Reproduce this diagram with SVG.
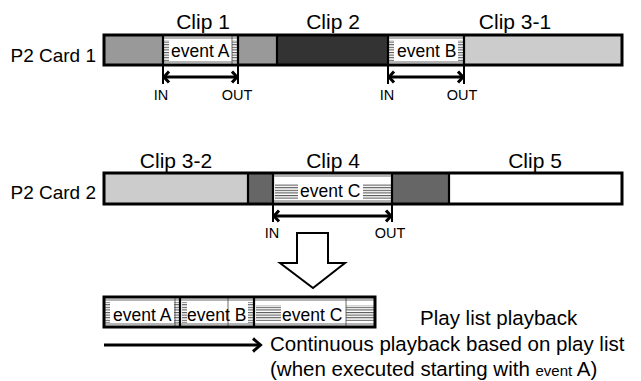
<svg xmlns="http://www.w3.org/2000/svg" width="641" height="381" viewBox="0 0 641 381">
<defs>
<pattern id="hatch" patternUnits="userSpaceOnUse" width="4" height="2.6">
<rect width="4" height="2.6" fill="#fff"/>
<line x1="0" y1="0.6" x2="4" y2="0.6" stroke="#333" stroke-width="0.9"/>
</pattern>
</defs>
<style>
text{font-family:"Liberation Sans",Arial,sans-serif;fill:#000}
.clip{font-size:21px;text-anchor:middle}
.card{font-size:19px;text-anchor:end}
.ev{font-size:17.5px}
.io{font-size:14.5px;text-anchor:middle}
.big{font-size:20.5px}
.out{fill:none;stroke:#000;stroke-width:3}
.div{stroke:#000;stroke-width:2.2}
.thin{stroke:#444;stroke-width:0.8;fill:none}
.arr{fill:none;stroke:#000;stroke-width:3}
.tick{stroke:#000;stroke-width:2}
</style>

<g id="card1">
<text class="card" x="96" y="62">P2 Card 1</text>
<rect x="104" y="35" width="59" height="30" fill="#999"/>
<rect x="163" y="35" width="75" height="30" fill="#fff"/>
<rect x="238" y="35" width="39" height="30" fill="#999"/>
<rect x="277" y="35" width="111" height="30" fill="#333"/>
<rect x="388" y="35" width="76" height="30" fill="#fff"/>
<rect x="464" y="35" width="158" height="30" fill="#ccc"/>
<rect x="164" y="40" width="5" height="21" fill="url(#hatch)"/>
<rect x="232" y="40" width="5" height="21" fill="url(#hatch)"/>
<rect x="389" y="40" width="5" height="21" fill="url(#hatch)"/>
<rect x="458" y="40" width="5" height="21" fill="url(#hatch)"/>
<line class="thin" x1="163" y1="38" x2="238" y2="38"/>
<line class="thin" x1="163" y1="62" x2="238" y2="62"/>
<line class="thin" x1="388" y1="38" x2="464" y2="38"/>
<line class="thin" x1="388" y1="62" x2="464" y2="62"/>
<line class="thin" x1="232" y1="36" x2="232" y2="64"/>
<line class="div" x1="163" y1="35" x2="163" y2="65"/>
<line class="div" x1="238" y1="35" x2="238" y2="65"/>
<line class="div" x1="277" y1="35" x2="277" y2="65"/>
<line class="div" x1="388" y1="35" x2="388" y2="65"/>
<line class="div" x1="464" y1="35" x2="464" y2="65"/>
<rect class="out" x="104" y="35" width="518" height="30"/>
<text class="clip" x="203" y="29">Clip 1</text>
<text class="clip" x="333" y="29">Clip 2</text>
<text class="clip" x="515" y="29">Clip 3-1</text>
<text class="ev" x="171" y="57">event A</text>
<text class="ev" x="397" y="57">event B</text>
</g>

<g id="card2">
<text class="card" x="96" y="199">P2 Card 2</text>
<rect x="104" y="173" width="144" height="31" fill="#ccc"/>
<rect x="248" y="173" width="25" height="31" fill="#666"/>
<rect x="273" y="173" width="119" height="31" fill="#fff"/>
<rect x="392" y="173" width="57" height="31" fill="#666"/>
<rect x="449" y="173" width="173" height="31" fill="#fff"/>
<rect x="275" y="184" width="23" height="15" fill="url(#hatch)"/>
<rect x="363" y="184" width="28" height="15" fill="url(#hatch)"/>
<line class="thin" x1="273" y1="176" x2="392" y2="176"/>
<line class="thin" x1="273" y1="201" x2="392" y2="201"/>
<line class="div" x1="248" y1="173" x2="248" y2="204"/>
<line class="div" x1="273" y1="173" x2="273" y2="204"/>
<line class="div" x1="392" y1="173" x2="392" y2="204"/>
<line class="div" x1="449" y1="173" x2="449" y2="204"/>
<rect class="out" x="104" y="173" width="518" height="31"/>
<text class="clip" x="176" y="168">Clip 3-2</text>
<text class="clip" x="333" y="168">Clip 4</text>
<text class="clip" x="535" y="168">Clip 5</text>
<text class="ev" x="300" y="197">event C</text>
</g>

<g id="playlist">
<rect x="104" y="297" width="271" height="30" fill="#fff"/>
<rect x="105" y="302" width="5" height="21" fill="url(#hatch)"/>
<rect x="174" y="302" width="5" height="21" fill="url(#hatch)"/>
<rect x="182" y="302" width="5" height="21" fill="url(#hatch)"/>
<rect x="248" y="302" width="5" height="21" fill="url(#hatch)"/>
<rect x="256" y="305" width="25" height="16" fill="url(#hatch)"/>
<rect x="346" y="305" width="28" height="16" fill="url(#hatch)"/>
<line class="thin" x1="104" y1="300" x2="375" y2="300"/>
<line class="thin" x1="104" y1="324" x2="375" y2="324"/>
<line class="thin" x1="175" y1="298" x2="175" y2="326"/>
<line class="thin" x1="228" y1="298" x2="228" y2="326"/>
<line class="thin" x1="346" y1="298" x2="346" y2="326"/>
<line class="div" x1="180" y1="297" x2="180" y2="327"/>
<line class="div" x1="254" y1="297" x2="254" y2="327"/>
<rect class="out" x="104" y="297" width="271" height="30"/>
<text class="ev" x="113" y="321">event A</text>
<text class="ev" x="187" y="321">event B</text>
<text class="ev" x="282" y="321">event C</text>
<text class="big" x="420" y="325">Play list playback</text>
</g>

<g id="connectors">
<line class="tick" x1="163" y1="65" x2="163" y2="84"/>
<line class="tick" x1="238" y1="65" x2="238" y2="84"/>
<line class="arr" x1="164" y1="77" x2="237" y2="77"/>
<path class="arr" d="M169,71.5 L164,77 L169,82.5 M232,71.5 L237,77 L232,82.5"/>
<line class="tick" x1="388" y1="65" x2="388" y2="84"/>
<line class="tick" x1="464" y1="65" x2="464" y2="84"/>
<line class="arr" x1="389" y1="77" x2="463" y2="77"/>
<path class="arr" d="M394,71.5 L389,77 L394,82.5 M458,71.5 L463,77 L458,82.5"/>
<line class="tick" x1="273" y1="204" x2="273" y2="222"/>
<line class="tick" x1="392" y1="204" x2="392" y2="222"/>
<line class="arr" x1="274" y1="216" x2="391" y2="216"/>
<path class="arr" d="M279,210.5 L274,216 L279,221.5 M386,210.5 L391,216 L386,221.5"/>
<polygon points="297,233 328,233 328,263 345,263 313,288 280,263 297,263" fill="#fff" stroke="#000" stroke-width="2"/>
<line class="arr" x1="104" y1="345" x2="260" y2="345"/>
<path class="arr" d="M253,338.5 L260.5,345 L253,351.5"/>
</g>

<g id="labels">
<text class="io" x="161" y="100">IN</text>
<text class="io" x="237" y="100">OUT</text>
<text class="io" x="387" y="100">IN</text>
<text class="io" x="462" y="100">OUT</text>
<text class="io" x="272" y="238">IN</text>
<text class="io" x="390" y="238">OUT</text>
<text class="big" x="270" y="351">Continuous playback based on play list</text>
<text class="big" x="270" y="376">(when executed starting with <tspan font-size="15">event</tspan> A)</text>
</g>
</svg>
